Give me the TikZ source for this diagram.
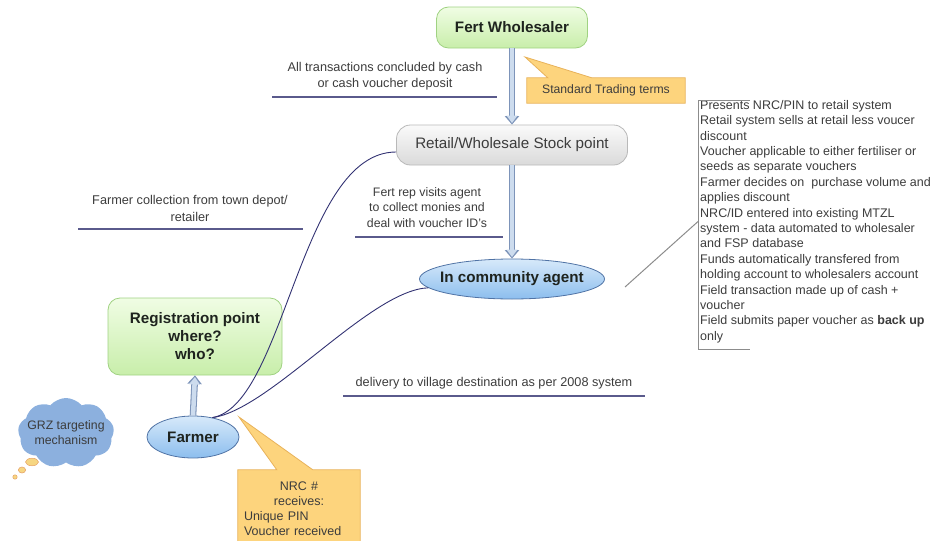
\documentclass[tikz,border=0pt]{standalone}
\usepackage{fontspec}
\setmainfont{Liberation Sans}
\usetikzlibrary{arrows.meta,shapes.geometric,shapes.symbols,backgrounds}
\definecolor{greenbd}{RGB}{160,210,130}
\definecolor{greentop}{RGB}{240,253,228}
\definecolor{greenbot}{RGB}{200,238,170}
\definecolor{graybd}{RGB}{185,185,185}
\definecolor{graytop}{RGB}{250,250,250}
\definecolor{graybot}{RGB}{218,218,218}
\definecolor{bluebd}{RGB}{80,115,165}
\definecolor{bluetop}{RGB}{215,233,250}
\definecolor{bluebot}{RGB}{140,190,238}
\definecolor{callfill}{RGB}{253,212,125}
\definecolor{callbd}{RGB}{232,178,90}
\definecolor{cloudfill}{RGB}{140,176,222}
\definecolor{curvecol}{RGB}{50,50,115}
\definecolor{ulinecol}{RGB}{90,90,140}
\definecolor{txt}{RGB}{60,60,60}
\definecolor{titletxt}{RGB}{30,35,30}
\definecolor{arrowout}{RGB}{125,148,185}
\definecolor{arrowin}{RGB}{205,220,238}
\definecolor{bracketcol}{RGB}{140,140,140}
\definecolor{bubblefill}{RGB}{246,214,130}
\definecolor{bubblebd}{RGB}{230,160,100}
\begin{document}
\begin{tikzpicture}[x=1pt,y=-1pt,
  greenbox/.style={rectangle, rounded corners=12pt, draw=greenbd, line width=0.8pt,
    top color=greentop, bottom color=greenbot, align=center, text=titletxt,
    font=\fontsize{15.2}{18}\selectfont\bfseries},
  graybox/.style={rectangle, rounded corners=14pt, draw=graybd, line width=0.8pt,
    top color=graytop, bottom color=graybot, align=center, text=txt,
    font=\fontsize{15.2}{18}\selectfont},
  blueell/.style={ellipse, draw=bluebd, line width=0.8pt,
    top color=bluetop, bottom color=bluebot, text=titletxt,
    font=\fontsize{15.2}{18}\selectfont\bfseries},
  small/.style={align=center, text=txt, font=\fontsize{12.7}{16}\selectfont},
  uline/.style={draw=ulinecol, line width=1.6pt},
  curve/.style={draw=curvecol, line width=0.9pt},
  harrow/.style={draw=arrowin, line width=4.5pt, shorten >=1.6pt,
    -{Triangle[width=10.5pt,length=7.5pt]},
    preaction={draw=arrowout, line width=6.6pt, shorten >=0pt,
      -{Triangle[width=14pt,length=8.5pt]}}},
  callout/.style={fill=callfill, draw=callbd, line width=0.8pt},
  bracket/.style={draw=bracketcol, line width=0.9pt},
  gline/.style={draw=bracketcol, line width=1pt}
]
\useasboundingbox (0,0) rectangle (935,541);

% main nodes
\node[greenbox, minimum width=151pt, minimum height=41pt] (fert) at (512,27.5) {Fert Wholesaler};
\node[graybox, minimum width=231pt, minimum height=40pt] (retail) at (512,145) {Retail/Wholesale Stock point};
\node[blueell, minimum width=185pt, minimum height=40pt] (agent) at (512,279) {\makebox[0pt]{In community agent}};
\node[blueell, minimum width=92pt, minimum height=42pt] (farmer) at (193,437) {Farmer};
\node[greenbox, minimum width=174pt, minimum height=77pt] (reg) at (195,336.5) {Registration point\\where?\\who?};
\node[cloud, cloud puffs=9, cloud puff arc=100, aspect=1.4, fill=cloudfill, inner sep=0pt,
  minimum width=96pt, minimum height=70pt, align=center, text=txt,
  font=\fontsize{12.3}{15}\selectfont] (grz) at (66,433) {\makebox[0pt]{GRZ targeting}\\\makebox[0pt]{mechanism}};

% thought bubbles
\filldraw[fill=bubblefill, draw=bubblebd, line width=0.5pt] (32,462) ellipse (6.5pt and 3.8pt);
\filldraw[fill=bubblefill, draw=bubblebd, line width=0.5pt] (22,470) ellipse (3.6pt and 3pt);
\filldraw[fill=bubblefill, draw=bubblebd, line width=0.5pt] (15,477) circle (2.2pt);

% callouts
\node[minimum width=158pt, minimum height=25pt, inner sep=0pt, text=txt,
  font=\fontsize{12.2}{15}\selectfont] (std) at (606,90.5) {Standard Trading terms};
\coordinate (stdtip) at (525,57);
\node[minimum width=122pt, minimum height=78pt, inner sep=6pt, text width=110pt, text=txt,
  font=\fontsize{12.5}{15}\selectfont] (nrc) at (299,509)
  {{\centering NRC \#\\receives:\par}Unique PIN\\Voucher received};
\coordinate (nrctip) at (239,417);
\begin{scope}[on background layer]
  \filldraw[callout] (std.north west) -- ([xshift=21pt]std.north west) -- (stdtip)
    -- ([xshift=65pt]std.north west) -- (std.north east) -- (std.south east)
    -- (std.south west) -- cycle;
  \filldraw[callout] (nrc.north west) -- ([xshift=39pt]nrc.north west) -- (nrctip)
    -- ([xshift=75pt]nrc.north west) -- (nrc.north east) -- (nrc.south east)
    -- (nrc.south west) -- cycle;
\end{scope}

% annotation texts with underlines
\node[small] (t1) at (385,76) {All transactions concluded by cash\\or cash voucher deposit};
\coordinate (u1a) at (272,97); \coordinate (u1b) at (497,97);
\draw[uline] (u1a) -- (u1b);
\node[small, font=\fontsize{12.7}{16.5}\selectfont] (t2) at (190,208.5) {Farmer collection from town depot/\\retailer};
\coordinate (u2a) at (78,229); \coordinate (u2b) at (303,229);
\draw[uline] (u2a) -- (u2b);
\node[small, font=\fontsize{12.3}{15.5}\selectfont] (t3) at (427,207.5) {Fert rep visits agent\\to collect monies and\\deal with voucher ID's};
\coordinate (u3a) at (355,237); \coordinate (u3b) at (503,237);
\draw[uline] (u3a) -- (u3b);
\node[small] (t4) at (494,383) {delivery to village destination as per 2008 system};
\coordinate (u4a) at (343,396); \coordinate (u4b) at (645,396);
\draw[uline] (u4a) -- (u4b);

% notes block
\node[anchor=north west, inner sep=0pt, align=left, text=txt,
  font=\fontsize{12.5}{15.4}\selectfont] (notes) at (700,100)
  {Presents NRC/PIN to retail system\\
   Retail system sells at retail less voucer\\
   discount\\
   Voucher applicable to either fertiliser or\\
   seeds as separate vouchers\\
   Farmer decides on\ \ purchase volume and\\
   applies discount\\
   NRC/ID entered into existing MTZL\\
   system - data automated to wholesaler\\
   and FSP database\\
   Funds automatically transfered from\\
   holding account to wholesalers account\\
   Field transaction made up of cash +\\
   voucher\\
   Field submits paper voucher as \textbf{back up}\\
   only};
\draw[bracket] ([shift={(50,0)}]notes.north west) -- ([shift={(-2,0)}]notes.north west)
  -- ([shift={(-2,6)}]notes.south west) -- ([shift={(50,6)}]notes.south west);
\coordinate (lk) at (625,287);
\draw[gline] (lk) -- ([xshift=-2pt]notes.west);

% connectors
\draw[curve] (farmer.45) .. controls (285,405) and (300,152) .. ([yshift=-7pt]retail.west);
\draw[curve] (farmer.45) .. controls (270,410) and (370,290) .. (agent.186);
\draw[harrow] (fert.south) -- (retail.north);
\draw[harrow] (retail.south) -- (agent.north);
\draw[harrow] (farmer.north) -- (reg.south);
\end{tikzpicture}
\end{document}
